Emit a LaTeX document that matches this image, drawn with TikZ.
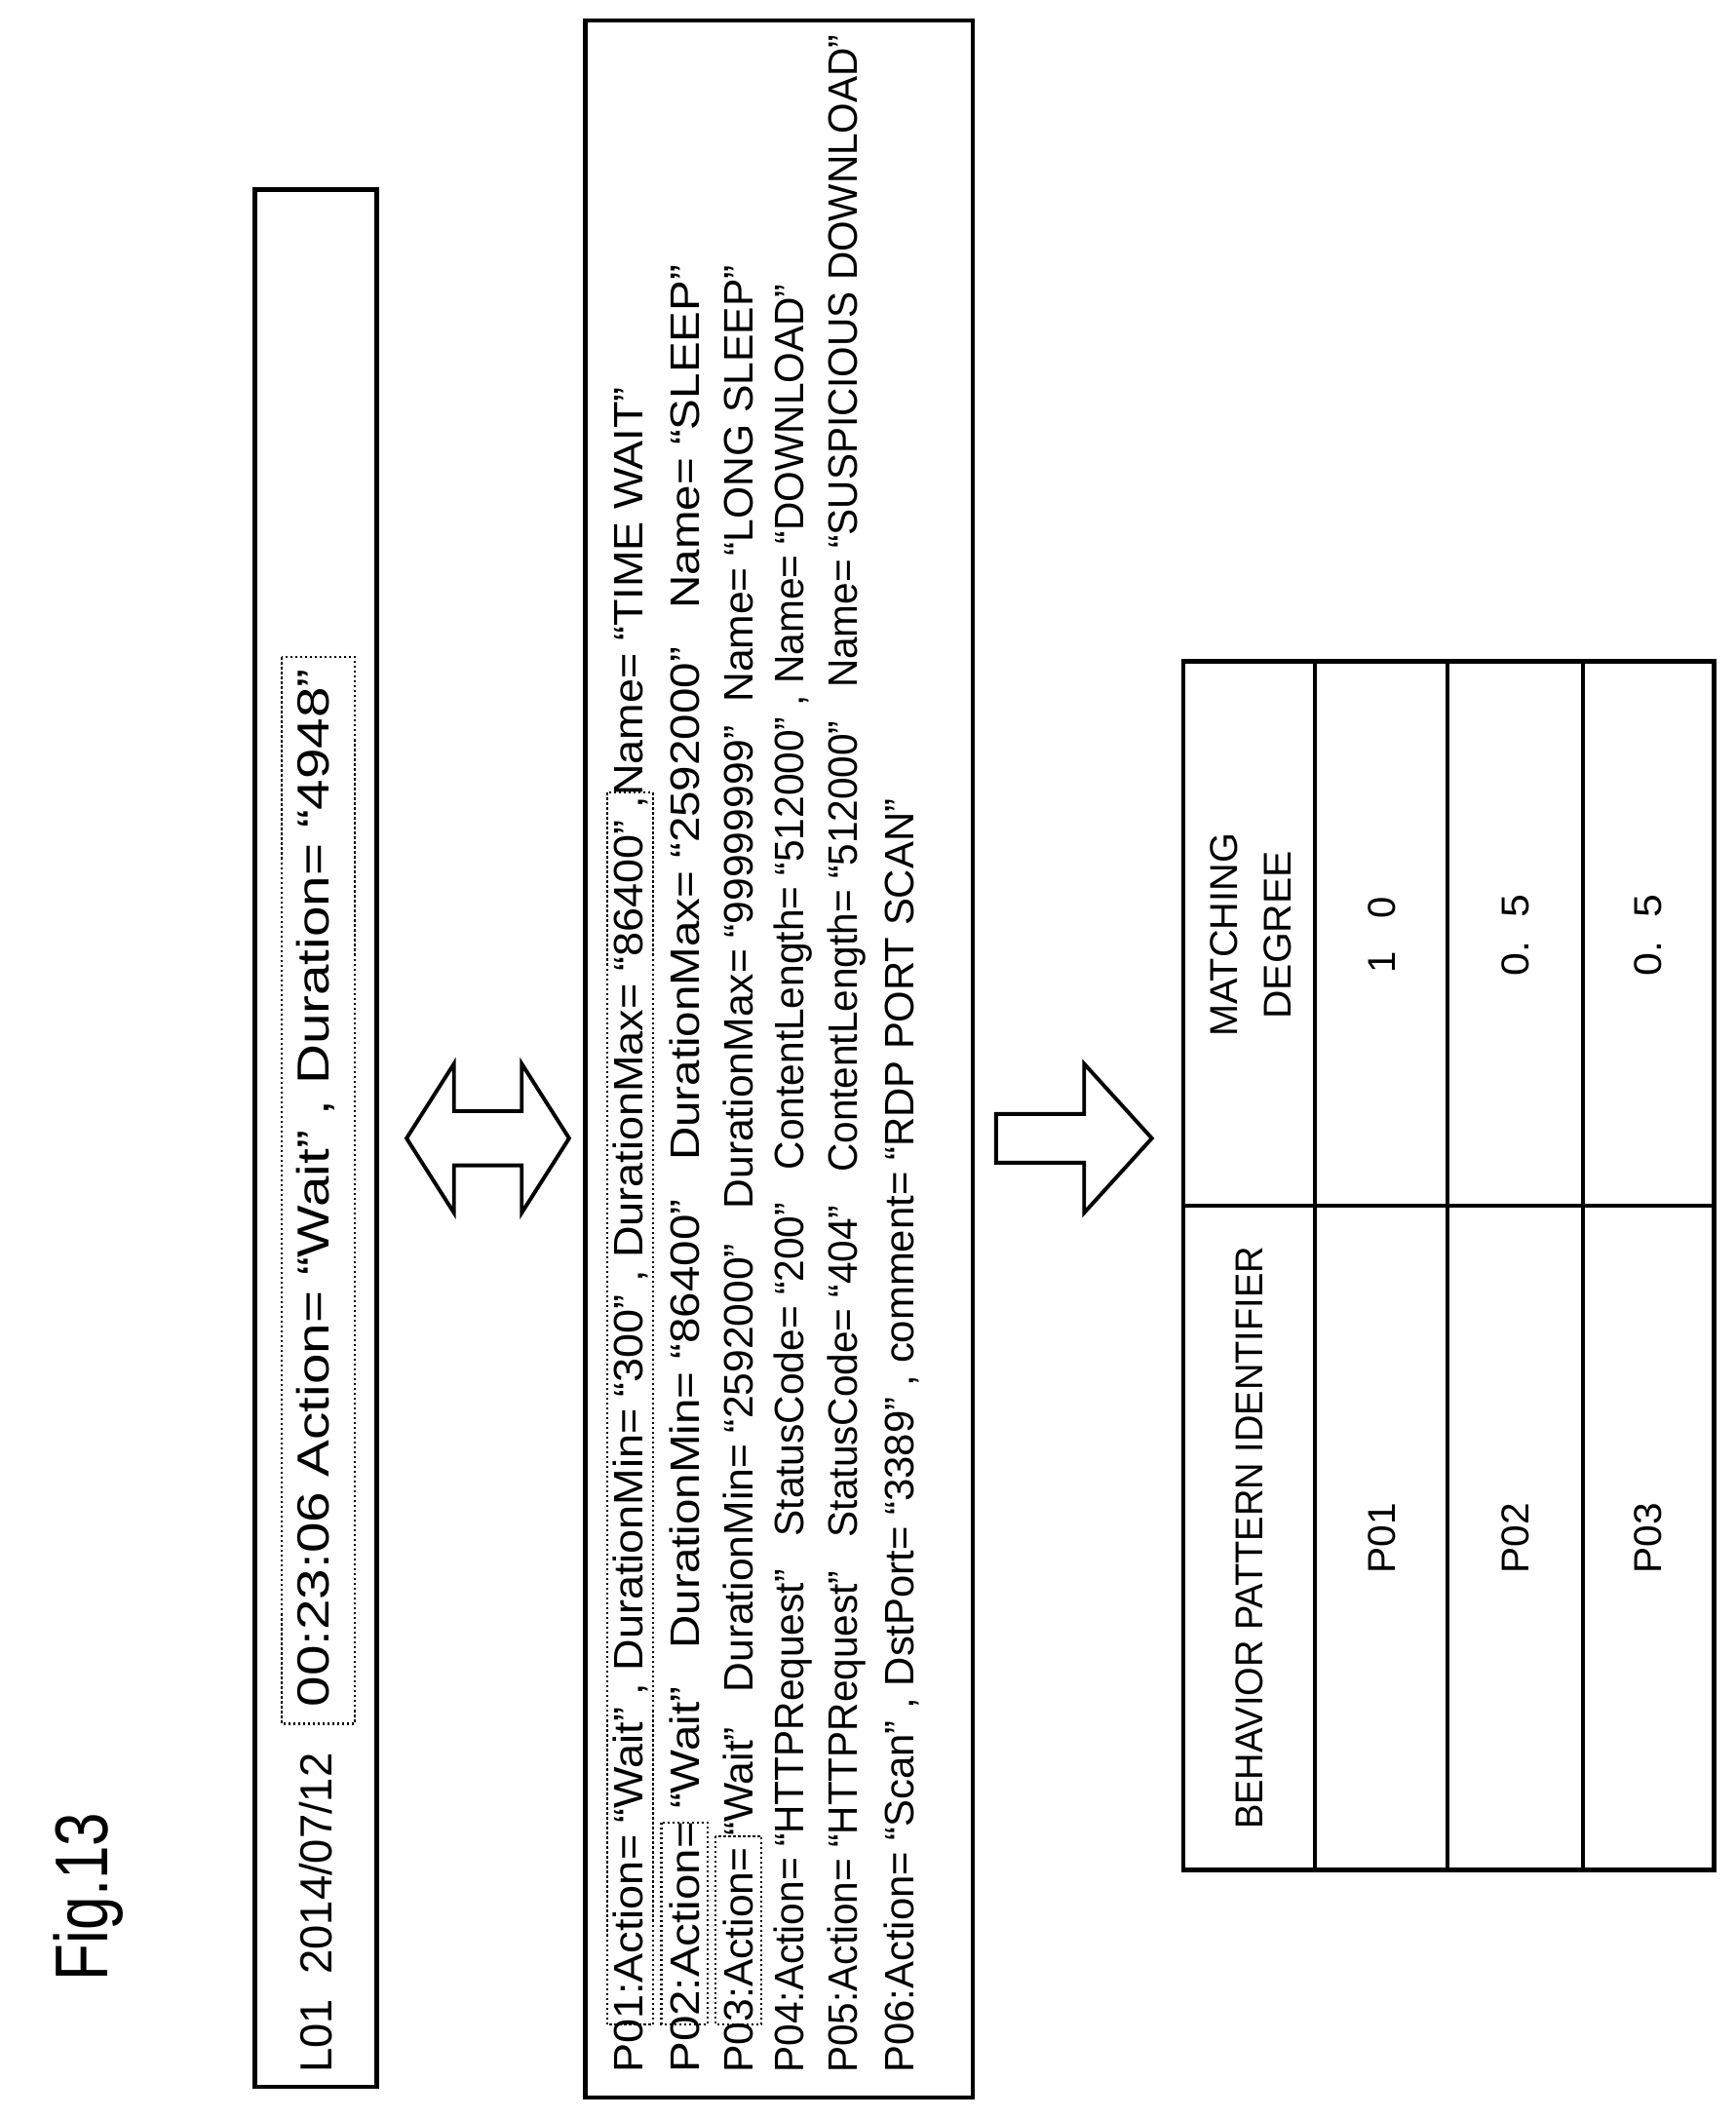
\documentclass[tikz,border=0pt]{standalone}
\usepackage{fontspec}
\setmainfont{Liberation Sans}
\newfontfamily\condf{Liberation Sans}
\begin{document}
\begin{tikzpicture}[x=0.5pt,y=-0.5pt,
  box/.style={draw,line width=1.6pt},
  dbox/.style={draw,densely dotted,line width=0.8pt},
  ln/.style={rotate=90,anchor=west,inner sep=0pt},
  ar/.style={draw,line width=1.4pt,fill=white}]
\useasboundingbox (0,0) rectangle (1281,1563);
\newcommand{\fl}[3]{\resizebox{#1pt}{#2pt}{\condf #3}}
% Fig label
\node[ln] (fig) at (65,1462) {\resizebox{62pt}{20pt}{Fig.13}};
% L01 box
\draw[box] (188,140) rectangle (278,1540);
\node[ln] (l01) at (233,1530) {\fl{118}{12}{L01\ \ 2014/07/12}};
\draw[dbox] (208,485) rectangle (262,1272);
\node[ln] (l01b) at (233,1260) {\fl{383}{12}{00:23:06 Action= “Wait” , Duration= “4948”}};
% double arrow
\draw[ar] (300,840) -- (335,785) -- (335,820) -- (385,820) -- (385,785) -- (420,840) -- (385,895) -- (385,860) -- (335,860) -- (335,895) -- cycle;
% big box
\draw[box] (432,15) rectangle (718,1548);
\draw[dbox] (448,585) rectangle (482,1494);
\draw[dbox] (488,1345) rectangle (522,1494);
\draw[dbox] (528,1355) rectangle (562,1494);
\node[ln] (p1) at (465,1530) {\fl{622}{11}{P01:Action= “Wait” , DurationMin= “300” , DurationMax= “86400” ,Name= “TIME WAIT”}};
\node[ln] (p2) at (505,1530) {\fl{667}{11}{P02:Action= “Wait”\ \ \ DurationMin= “86400”\ \ \ DurationMax= “2592000”\ \ \ Name= “SLEEP”}};
\node[ln] (p3) at (545,1530) {\fl{667}{11}{P03:Action= “Wait”\ \ \ DurationMin= “2592000”\ \ \ DurationMax= “99999999”\ \ Name= “LONG SLEEP”}};
\node[ln] (p4) at (585,1530) {\fl{660}{11}{P04:Action= “HTTPRequest”\ \ \ StatusCode= “200”\ \ \ ContentLength= “512000” ,\ Name= “DOWNLOAD”}};
\node[ln] (p5) at (625,1530) {\fl{752}{11}{P05:Action= “HTTPRequest”\ \ \ StatusCode= “404”\ \ \ ContentLength= “512000”\ \ \ Name= “SUSPICIOUS DOWNLOAD”}};
\node[ln] (p6) at (665,1530) {\fl{470}{11}{P06:Action= “Scan” , DstPort= “3389” , comment= “RDP PORT SCAN”}};
% single arrow
\draw[ar] (850,840) -- (800,785) -- (800,822) -- (735,822) -- (735,858) -- (800,858) -- (800,895) -- cycle;
% table
\draw[box] (873,488) rectangle (1265,1380);
\foreach \xx in {970,1068,1168} \draw[line width=1.4pt] (\xx,488) -- (\xx,1380);
\draw[line width=1.4pt] (873,890) -- (1265,890);
\node[ln,anchor=center] (h1) at (922,1135) {\resizebox{215pt}{10pt}{BEHAVIOR PATTERN IDENTIFIER}};
\node[ln,anchor=center] (h2) at (903,690) {\resizebox{75pt}{10pt}{MATCHING}};
\node[ln,anchor=center] (h3) at (943,690) {\resizebox{62pt}{10pt}{DEGREE}};
\node[ln,anchor=center] (r1) at (1020,1135) {\resizebox{26pt}{10pt}{P01}};
\node[ln,anchor=center] (r2) at (1118,1135) {\resizebox{26pt}{10pt}{P02}};
\node[ln,anchor=center] (r3) at (1216,1135) {\resizebox{26pt}{10pt}{P03}};
\node[ln,anchor=center] (v1) at (1020,690) {\resizebox{28pt}{10pt}{1\ \ \ 0}};
\node[ln,anchor=center] (v2) at (1118,690) {\resizebox{30pt}{10pt}{0.\ \ 5}};
\node[ln,anchor=center] (v3) at (1216,690) {\resizebox{30pt}{10pt}{0.\ \ 5}};
\end{tikzpicture}
\end{document}
